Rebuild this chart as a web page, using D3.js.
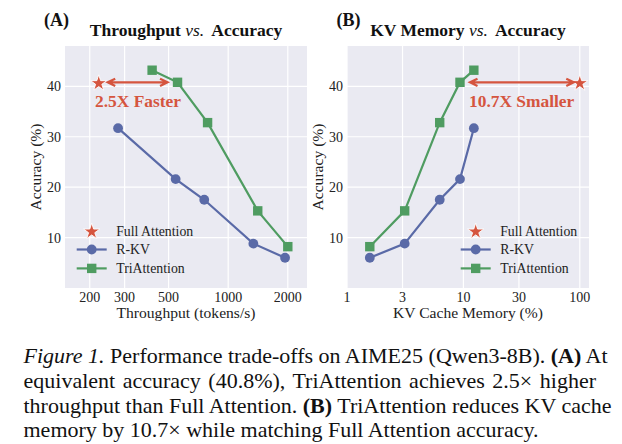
<!DOCTYPE html>
<html><head><meta charset="utf-8">
<script src="https://cdn.jsdelivr.net/npm/d3@7"></script>
<style>
html,body{margin:0;padding:0;background:#fff;}
svg{display:block;font-family:"Liberation Serif","Times New Roman",Times,serif;}
</style></head>
<body>
<svg id="chart" width="622" height="444"></svg>
<script>
// ---- data ----
const yTicks = [10, 20, 30, 40];
const throughputTicks = [200, 300, 500, 1000, 2000];
const memoryTicks = [1, 3, 10, 30, 100];

const fullThroughput = [222];
const fullAccuracy = [40.8];
const rkvThroughput = [278, 543, 757, 1340, 1937];
const rkvAccuracyA = [31.7, 21.6, 17.5, 8.8, 6.0];
const triThroughput = [413, 555, 787, 1410, 2000];
const triAccuracyA = [43.2, 40.8, 32.8, 15.3, 8.2];

const fullMemory = [100];
const memoryBudget = [1.57, 3.13, 6.26, 9.35, 12.3];
const rkvAccuracyB = [6.0, 8.8, 17.5, 21.6, 31.7];
const triAccuracyB = [8.2, 15.3, 32.8, 40.8, 43.2];

const legendLabels = ["Full Attention", "R-KV", "TriAttention"];

const RED = "#D5553F", BLUE = "#5A6AA7", GREEN = "#4F9C61", BG = "#EAEAF2";

const svg = d3.select("#chart");

function panel(opt) {
  const x = d3.scaleLog().domain(opt.xDomain).range([opt.left, opt.right]);
  const y = d3.scaleLinear().domain([0, 48]).range([288, 46]);
  const g = svg.append("g");
  g.append("rect").attr("x", opt.left).attr("y", 46)
    .attr("width", opt.right - opt.left).attr("height", 242).attr("fill", BG);
  // grid
  g.selectAll(".gx").data(opt.xTicks).join("line")
    .attr("x1", d => x(d)).attr("x2", d => x(d)).attr("y1", 46).attr("y2", 288)
    .attr("stroke", "#fff").attr("stroke-width", 1.2);
  g.selectAll(".gy").data(yTicks).join("line")
    .attr("y1", d => y(d)).attr("y2", d => y(d)).attr("x1", opt.left).attr("x2", opt.right)
    .attr("stroke", "#fff").attr("stroke-width", 1.2);
  // tick labels
  g.selectAll(".tx").data(opt.xTicks).join("text")
    .attr("x", d => x(d)).attr("y", 301.5).attr("text-anchor", "middle")
    .attr("font-size", 14).attr("fill", "#222").text(d => d);
  g.selectAll(".ty").data(yTicks).join("text")
    .attr("x", opt.left - 4).attr("y", d => y(d) + 5).attr("text-anchor", "end")
    .attr("font-size", 14).attr("fill", "#222").text(d => d);
  // axis labels
  g.append("text").attr("x", (opt.left + opt.right) / 2).attr("y", 317.5)
    .attr("text-anchor", "middle").attr("font-size", 15.6).attr("fill", "#222").text(opt.xLabel);
  g.append("text").attr("transform", `translate(${opt.left - 29},167) rotate(-90)`)
    .attr("dy", "0.35em").attr("text-anchor", "middle").attr("font-size", 15.6)
    .attr("fill", "#222").text("Accuracy (%)");
  // title
  const t = g.append("text").attr("x", (opt.left + opt.right) / 2).attr("y", 36)
    .attr("text-anchor", "middle").attr("font-size", 17.5).attr("fill", "#111");
  t.append("tspan").attr("font-weight", "bold").text(opt.title1 + " ");
  t.append("tspan").attr("font-style", "italic").text("vs.");
  t.append("tspan").attr("font-weight", "bold").attr("dx", 7).text(opt.title2);
  // panel letter
  g.append("text").attr("x", opt.letterX).attr("y", 25.5).attr("font-size", 18)
    .attr("font-weight", "bold").attr("fill", "#111").text(opt.letter);

  const line = d3.line().x(d => x(d[0])).y(d => y(d[1]));
  const rkv = opt.rkvX.map((v, i) => [v, opt.rkvY[i]]);
  const tri = opt.triX.map((v, i) => [v, opt.triY[i]]);
  g.append("path").datum(rkv).attr("d", line).attr("fill", "none")
    .attr("stroke", BLUE).attr("stroke-width", 2.2);
  g.selectAll(".rkv").data(rkv).join("circle")
    .attr("cx", d => x(d[0])).attr("cy", d => y(d[1])).attr("r", 4.9).attr("fill", BLUE);
  g.append("path").datum(tri).attr("d", line).attr("fill", "none")
    .attr("stroke", GREEN).attr("stroke-width", 2.2);
  const sq = 9.4;
  g.selectAll(".tri").data(tri).join("rect")
    .attr("x", d => x(d[0]) - sq / 2).attr("y", d => y(d[1]) - sq / 2)
    .attr("width", sq).attr("height", sq).attr("fill", GREEN);
  // full attention star
  const star = d3.symbol().type(d3.symbolStar).size(82);
  const full = opt.fullX.map((v, i) => [v, opt.fullY[i]]);
  g.selectAll(".full").data(full).join("path")
    .attr("d", star).attr("transform", d => `translate(${x(d[0])},${y(d[1]) + 1})`)
    .attr("fill", RED).attr("stroke", "#fff").attr("stroke-width", 0.9);

  // double arrow
  const ay = y(opt.fullY[0]);
  const xa = Math.min(x(opt.fullX[0]), x(opt.arrowTo)) + opt.gapL;
  const xb = Math.max(x(opt.fullX[0]), x(opt.arrowTo)) - opt.gapR;
  const hl = 7.5, hw = 3.6;
  g.append("path")
    .attr("d", `M${xa},${ay}L${xb},${ay}M${xa + hl},${ay - hw}L${xa},${ay}L${xa + hl},${ay + hw}` +
               `M${xb - hl},${ay - hw}L${xb},${ay}L${xb - hl},${ay + hw}`)
    .attr("fill", "none").attr("stroke", RED).attr("stroke-width", 2.2)
    .attr("stroke-linejoin", "miter");
  g.append("text").attr("x", opt.noteX).attr("y", 107.3).attr("font-size", 17.4)
    .attr("font-weight", "bold").attr("fill", RED).text(opt.note);

  // legend
  const lx = opt.legendX, rows = [230.7, 249.5, 268.4];
  g.append("path").attr("d", star).attr("transform", `translate(${lx + 15},${rows[0] + 1})`)
    .attr("fill", RED).attr("stroke", "#fff").attr("stroke-width", 0.9);
  g.append("line").attr("x1", lx).attr("x2", lx + 30).attr("y1", rows[1]).attr("y2", rows[1])
    .attr("stroke", BLUE).attr("stroke-width", 2.2);
  g.append("circle").attr("cx", lx + 15).attr("cy", rows[1]).attr("r", 4.9).attr("fill", BLUE);
  g.append("line").attr("x1", lx).attr("x2", lx + 30).attr("y1", rows[2]).attr("y2", rows[2])
    .attr("stroke", GREEN).attr("stroke-width", 2.2);
  g.append("rect").attr("x", lx + 15 - sq / 2).attr("y", rows[2] - sq / 2)
    .attr("width", sq).attr("height", sq).attr("fill", GREEN);
  g.selectAll(".lt").data(legendLabels).join("text")
    .attr("x", lx + 39.5).attr("y", (d, i) => rows[i] + 4.8)
    .attr("font-size", 13.8).attr("fill", "#222").text(d => d);
}

panel({
  left: 65, right: 307, xDomain: [150, 2500], xTicks: throughputTicks,
  xLabel: "Throughput (tokens/s)", title1: "Throughput", title2: "Accuracy",
  letter: "(A)", letterX: 44,
  rkvX: rkvThroughput, rkvY: rkvAccuracyA, triX: triThroughput, triY: triAccuracyA,
  fullX: fullThroughput, fullY: fullAccuracy, arrowTo: triThroughput[1], gapL: 9, gapR: 10,
  note: "2.5X Faster", noteX: 95, legendX: 76.7
});
panel({
  left: 347, right: 589, xDomain: [1, 120], xTicks: memoryTicks,
  xLabel: "KV Cache Memory (%)", title1: "KV Memory", title2: "Accuracy",
  letter: "(B)", letterX: 336.5,
  rkvX: memoryBudget, rkvY: rkvAccuracyB, triX: memoryBudget, triY: triAccuracyB,
  fullX: fullMemory, fullY: fullAccuracy, arrowTo: memoryBudget[3], gapL: 10, gapR: 6,
  note: "10.7X Smaller", noteX: 469, legendX: 460.7
});

// ---- caption ----
const captionLines = [
  [["i", "Figure 1."], ["n", " Performance trade-offs on AIME25 (Qwen3-8B). "], ["b", "(A)"], ["n", " At"]],
  [["n", "equivalent accuracy (40.8%), TriAttention achieves 2.5× higher"]],
  [["n", "throughput than Full Attention. "], ["b", "(B)"], ["n", " TriAttention reduces KV cache"]],
  [["n", "memory by 10.7× while matching Full Attention accuracy."]]
];
const capX = 23.5, capRight = 596, capY0 = 363.3, capLH = 24.6;
captionLines.forEach((parts, i) => {
  const t = svg.append("text").attr("x", capX).attr("y", capY0 + i * capLH)
    .attr("font-size", 22.0).attr("fill", "#111");
  parts.forEach(([s, str]) => {
    const ts = t.append("tspan").text(str);
    if (s === "i") ts.attr("font-style", "italic");
    if (s === "b") ts.attr("font-weight", "bold");
  });
  if (i < captionLines.length - 1) {
    const w = t.node().getComputedTextLength();
    const spaces = parts.map(p => p[1]).join("").split(" ").length - 1;
    t.attr("word-spacing", Math.max(0, ((capRight - capX) - w) / spaces));
  }
});
</script>
</body></html>
